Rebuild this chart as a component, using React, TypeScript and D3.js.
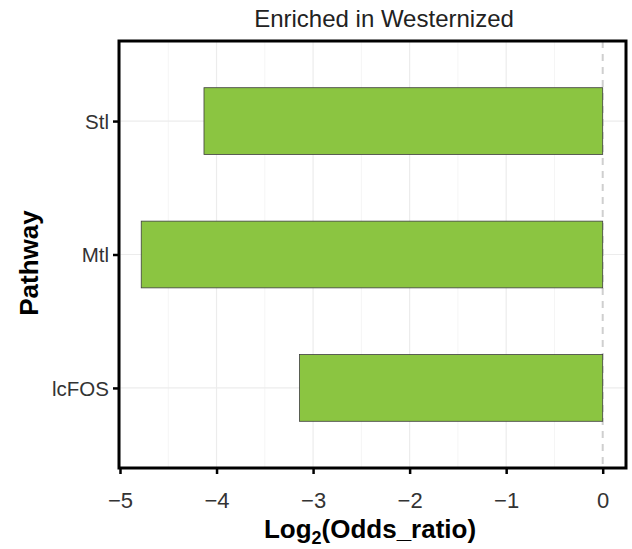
import { useEffect, useRef } from "react";
import * as d3 from "d3";

const pathways: string[] = ["Stl", "Mtl", "lcFOS"];
const log2Odds: number[] = [-4.13, -4.78, -3.14];
const xTicks: number[] = [-5, -4, -3, -2, -1, 0];
const chartTitle = "Enriched in Westernized";

export default function App() {
  const ref = useRef<SVGSVGElement>(null);

  useEffect(() => {
    const svg = d3.select(ref.current);
    svg.selectAll("*").remove();

    const width = 632, height = 549;
    const left = 119, right = 626, top = 41, bottom = 468;
    const font = "Liberation Sans, Arial, sans-serif";

    // -5 at x=120, 0 at x=602.7
    const x = d3.scaleLinear().domain([-5, 0]).range([120, 602.7]);
    const y = d3.scalePoint<string>()
      .domain(pathways)
      .range([top, bottom])
      .padding(0.6);
    const step = y.step();

    svg.attr("width", width).attr("height", height);

    svg.append("rect")
      .attr("x", left).attr("y", top)
      .attr("width", right - left).attr("height", bottom - top)
      .attr("fill", "#fff");

    // grid
    const grid = svg.append("g");
    grid.selectAll("line.minor")
      .data(d3.range(-4.5, 0.5, 1))
      .join("line")
      .attr("x1", d => x(d)).attr("x2", d => x(d))
      .attr("y1", top).attr("y2", bottom)
      .attr("stroke", "#f5f5f5").attr("stroke-width", 1);
    grid.selectAll("line.major")
      .data(xTicks.filter(d => d !== 0))
      .join("line")
      .attr("x1", d => x(d)).attr("x2", d => x(d))
      .attr("y1", top).attr("y2", bottom)
      .attr("stroke", "#ececec").attr("stroke-width", 1.2);
    grid.selectAll("line.hy")
      .data(pathways)
      .join("line")
      .attr("x1", left).attr("x2", right)
      .attr("y1", d => y(d)!).attr("y2", d => y(d)!)
      .attr("stroke", "#ececec").attr("stroke-width", 1.2);

    // dashed zero line
    svg.append("line")
      .attr("x1", x(0)).attr("x2", x(0))
      .attr("y1", top).attr("y2", bottom)
      .attr("stroke", "#cfcfcf").attr("stroke-width", 2)
      .attr("stroke-dasharray", "7,6");

    // bars
    const bw = step * 0.5;
    svg.append("g")
      .selectAll("rect")
      .data(pathways)
      .join("rect")
      .attr("x", (_, i) => x(log2Odds[i]))
      .attr("y", d => y(d)! - bw / 2)
      .attr("width", (_, i) => x(0) - x(log2Odds[i]))
      .attr("height", bw)
      .attr("fill", "#8bc541")
      .attr("stroke", "#3d3d3d")
      .attr("stroke-width", 0.8);

    // panel border
    svg.append("rect")
      .attr("x", left).attr("y", top)
      .attr("width", right - left).attr("height", bottom - top)
      .attr("fill", "none")
      .attr("stroke", "#000").attr("stroke-width", 3);

    // x axis
    const xa = svg.append("g").attr("transform", `translate(0,${bottom})`)
      .call(d3.axisBottom(x).tickValues(xTicks).tickSize(6)
        .tickFormat(d => (d as number) < 0 ? "\u2212" + Math.abs(d as number) : String(d)));
    xa.select(".domain").remove();
    xa.selectAll("line").attr("stroke", "#000").attr("stroke-width", 2.5);
    xa.selectAll("text")
      .attr("y", 40).attr("dy", null)
      .attr("font-family", font).attr("font-size", 22).attr("fill", "#333");

    // y axis
    const ya = svg.append("g").attr("transform", `translate(${left},0)`)
      .call(d3.axisLeft(y).tickSize(6));
    ya.select(".domain").remove();
    ya.selectAll("line").attr("stroke", "#000").attr("stroke-width", 2.5);
    ya.selectAll("text")
      .attr("x", -10).attr("dy", "0.36em")
      .attr("font-family", font).attr("font-size", 20.5).attr("fill", "#333");

    // titles
    svg.append("text")
      .attr("x", 384).attr("y", 27)
      .attr("text-anchor", "middle")
      .attr("font-family", font).attr("font-size", 24).attr("fill", "#222")
      .text(chartTitle);

    const xt = svg.append("text")
      .attr("x", 370).attr("y", 538)
      .attr("text-anchor", "middle")
      .attr("font-family", font).attr("font-size", 26).attr("font-weight", "bold")
      .attr("fill", "#000");
    xt.append("tspan").text("Log");
    xt.append("tspan").attr("font-size", 18).attr("dy", 6).text("2");
    xt.append("tspan").attr("dy", -6).text("(Odds_ratio)");

    svg.append("text")
      .attr("transform", `translate(38,263) rotate(-90)`)
      .attr("text-anchor", "middle")
      .attr("font-family", font).attr("font-size", 26).attr("font-weight", "bold")
      .attr("fill", "#000")
      .text("Pathway");
  }, []);

  return <svg ref={ref} style={{ position: "absolute", left: 0, top: 0 }}></svg>;
}
